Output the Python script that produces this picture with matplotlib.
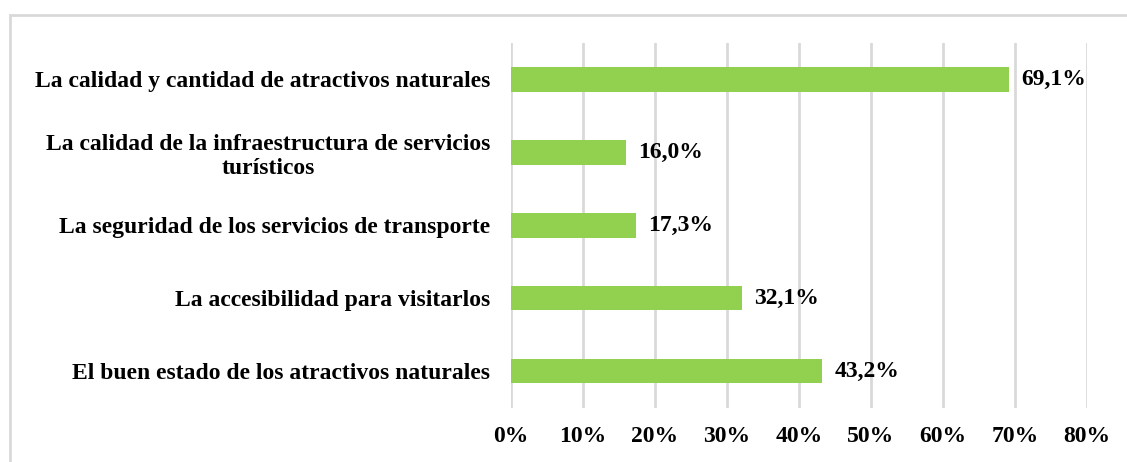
import matplotlib.pyplot as plt
from matplotlib.patches import Rectangle
from matplotlib.ticker import PercentFormatter

# Datos (de abajo hacia arriba)
categorias = [
    'El buen estado de los atractivos naturales',
    'La accesibilidad para visitarlos',
    'La seguridad de los servicios de transporte',
    'La calidad de la infraestructura de servicios\nturísticos',
    'La calidad y cantidad de atractivos naturales',
]
valores = [43.2, 32.1, 17.3, 16.0, 69.1]
etiquetas = ['43,2%', '32,1%', '17,3%', '16,0%', '69,1%']

plt.rcParams['font.family'] = ['Liberation Serif', 'DejaVu Serif']
plt.rcParams['font.weight'] = 'bold'

fig = plt.figure(figsize=(11.27, 4.62), dpi=100)
ax = fig.add_axes([0.4534, 0.117, 0.5111, 0.79])

# marco del grafico
marco = Rectangle((10 / 1127, -0.02), 1.1, 1 - 15 / 462 + 0.02, transform=fig.transFigure,
                  fill=False, edgecolor='#d9d9d9', linewidth=2, clip_on=False)
fig.patches.append(marco)

y = range(len(categorias))
ax.barh(y, valores, height=0.33, color='#92d050', zorder=3)
for i, v in enumerate(valores):
    ax.text(v + 1.7, i, etiquetas[i], va='center', ha='left', fontsize=17, fontweight='bold')

ax.set_xlim(0, 80)
ax.set_ylim(-0.5, 4.5)
ax.set_xticks(range(0, 81, 10))
ax.xaxis.set_major_formatter(PercentFormatter(decimals=0))
ax.set_yticks(list(y))
ax.set_yticklabels(categorias, ha='right', multialignment='center')
ax.tick_params(axis='y', length=0, pad=15, labelsize=17)
ax.tick_params(axis='x', length=0, pad=13, labelsize=17)
ax.grid(axis='x', color='#d9d9d9', linewidth=2, zorder=0)
for s in ax.spines.values():
    s.set_visible(False)

fig.savefig('out.png', dpi=100)
